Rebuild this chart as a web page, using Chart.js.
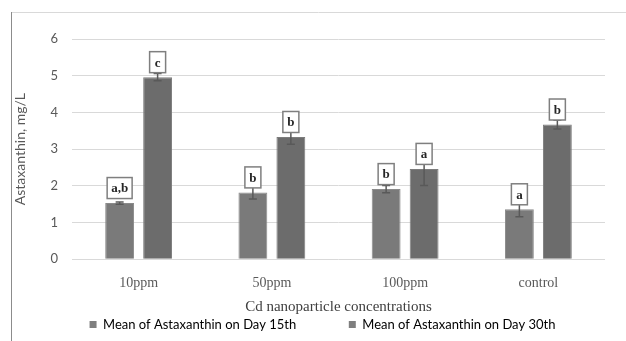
<!DOCTYPE html>
<html>
<head>
<meta charset="utf-8">
<script src="https://cdn.jsdelivr.net/npm/chart.js@4"></script>
<style>
  body { margin: 0; background: #fff; }
  #wrap { width: 626px; height: 341px; position: relative; }
</style>
</head>
<body>
<div id="wrap"><canvas id="myChart" width="626" height="341"></canvas></div>
<script>
// data
const categories = ["10ppm", "50ppm", "100ppm", "control"];
const day15 = [1.53, 1.82, 1.91, 1.36];
const day30 = [4.96, 3.33, 2.46, 3.67];
const err15 = [0.03, 0.18, 0.1, 0.2];
const err30 = [0.1, 0.2, 0.45, 0.12];
const letters15 = ["a,b", "b", "b", "a"];
const letters30 = ["c", "b", "a", "b"];
const yTicks = [0, 1, 2, 3, 4, 5, 6];

const errs = [err15, err30];
const letters = [letters15, letters30];

// error bars + letter boxes
const annotations = {
  id: "annotations",
  afterDatasetsDraw(chart) {
    const ctx = chart.ctx;
    const y = chart.scales.y;
    chart.data.datasets.forEach((ds, di) => {
      const meta = chart.getDatasetMeta(di);
      meta.data.forEach((bar, i) => {
        const v = ds.data[i];
        const e = errs[di][i];
        const x = bar.x;
        const yTop = y.getPixelForValue(v + e);
        const yBot = y.getPixelForValue(v - e);
        ctx.save();
        ctx.strokeStyle = "#595959";
        ctx.lineWidth = 1.5;
        ctx.beginPath();
        ctx.moveTo(x, yTop); ctx.lineTo(x, yBot);
        ctx.moveTo(x - 4, yTop); ctx.lineTo(x + 4, yTop);
        ctx.moveTo(x - 4, yBot); ctx.lineTo(x + 4, yBot);
        ctx.stroke();

        // letter box
        const txt = letters[di][i];
        ctx.font = "bold 13px 'Liberation Serif'";
        const w = Math.max(16, ctx.measureText(txt).width + 8);
        const h = 21;
        const bottom = bar.y - 4.5;
        ctx.fillStyle = "#fff";
        ctx.fillRect(x - w / 2, bottom - h, w, h);
        ctx.strokeStyle = "#7f7f7f";
        ctx.lineWidth = 1.5;
        ctx.strokeRect(x - w / 2, bottom - h, w, h);
        ctx.fillStyle = "#262626";
        ctx.textAlign = "center";
        ctx.textBaseline = "middle";
        ctx.fillText(txt, x, bottom - h / 2 + 1);
        ctx.restore();
      });
    });
  },
};

// outer frame lines, and nudge the legend a bit to the right
const frame = {
  id: "frame",
  afterLayout(chart) {
    chart.legend.left += 14;
    chart.legend.right += 14;
  },
  beforeDraw(chart) {
    const ctx = chart.ctx;
    ctx.save();
    ctx.strokeStyle = "#d9d9d9";
    ctx.lineWidth = 1;
    ctx.beginPath();
    ctx.moveTo(11, 12.5); ctx.lineTo(626, 12.5);
    ctx.stroke();
    ctx.strokeStyle = "#8c8c8c";
    ctx.beginPath();
    ctx.moveTo(11.5, 12); ctx.lineTo(11.5, 341);
    ctx.stroke();
    ctx.restore();
  },
};

const data = {
  labels: categories,
  datasets: [
    {
      label: "Mean of Astaxanthin on Day 15th",
      data: day15,
      backgroundColor: "#7a7a7a",
      borderColor: "#8a8a8a",
      borderWidth: 1,
      categoryPercentage: 0.57,
      barPercentage: 0.76,
    },
    {
      label: "Mean of Astaxanthin on Day 30th",
      data: day30,
      backgroundColor: "#6c6c6c",
      borderColor: "#7c7c7c",
      borderWidth: 1,
      categoryPercentage: 0.57,
      barPercentage: 0.76,
    },
  ],
};

const config = {
  type: "bar",
  data,
  options: {
    responsive: false,
    animation: false,
    layout: { padding: { left: 12, right: 21, top: 39, bottom: 0 } },
    plugins: {
      tooltip: { enabled: false },
      legend: {
        position: "bottom",
        labels: {
          boxWidth: 7,
          boxHeight: 7,
          padding: 6,
          color: "#595959",
          font: { family: "Lato", size: 13 },
          generateLabels(chart) {
            // trailing spaces widen the gap between the two entries
            return chart.data.datasets.map((ds, i) => ({
              text: i === 0 ? ds.label + "              " : ds.label,
              fillStyle: "#7f7f7f",
              strokeStyle: "#7f7f7f",
              lineWidth: 0,
              datasetIndex: i,
            }));
          },
        },
      },
    },
    scales: {
      x: {
        grid: { display: false, drawTicks: false },
        border: { display: false },
        ticks: {
          color: "#595959",
          font: { family: "Liberation Serif", size: 14 },
          padding: 16,
        },
        title: {
          display: true,
          text: "Cd nanoparticle concentrations",
          color: "#404040",
          font: { family: "Liberation Serif", size: 15 },
          padding: { top: -10, bottom: -4 },
        },
      },
      y: {
        min: 0,
        max: 6,
        afterBuildTicks(axis) {
          axis.ticks = yTicks.map((v) => ({ value: v }));
        },
        afterFit(axis) {
          axis.width = 60;
        },
        grid: { color: "#d9d9d9", drawTicks: false },
        border: { display: false },
        ticks: {
          color: "#595959",
          font: { family: "Lato", size: 13 },
          padding: 14,
        },
        title: {
          display: true,
          text: "Astaxanthin, mg/L",
          color: "#595959",
          font: { family: "Lato", size: 14 },
          padding: { top: 0, bottom: 4 },
        },
      },
    },
  },
  plugins: [frame, annotations],
};

const myChart = new Chart(document.getElementById("myChart"), config);
</script>
</body>
</html>
